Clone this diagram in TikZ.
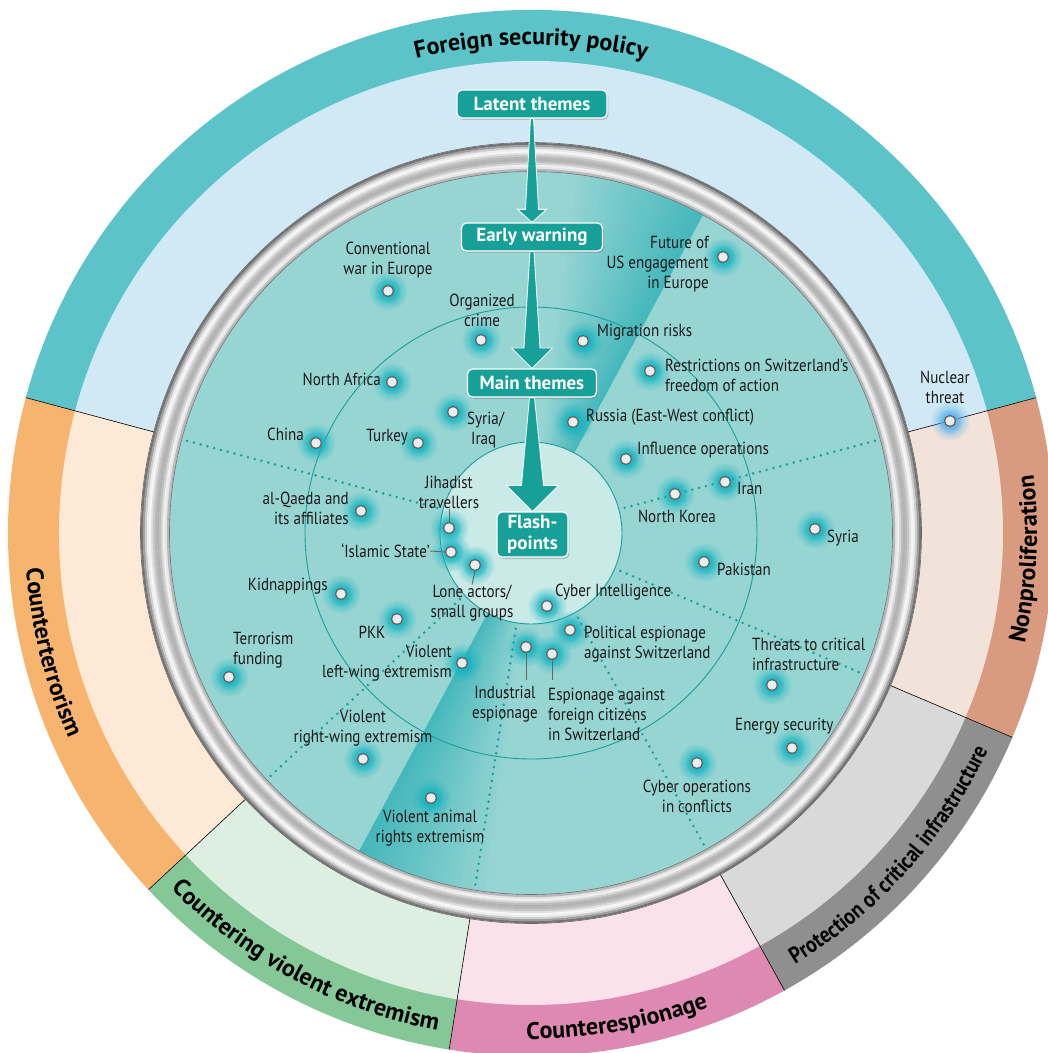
\documentclass[tikz,border=0pt]{standalone}
\usepackage{fontspec}
\setmainfont[FakeStretch=0.86]{PT Sans}
\newfontfamily\widefam{PT Sans}
\usetikzlibrary{calc,fadings,shadows,decorations.text}

\definecolor{discc}{HTML}{97D5D3}
\definecolor{stripec}{HTML}{45B8BC}
\definecolor{flashc}{HTML}{C9EAE7}
\definecolor{themec}{HTML}{17A097}
\definecolor{linec}{HTML}{1A9F98}
\definecolor{glowc}{HTML}{0FB3C0}
\definecolor{nukec}{HTML}{4FAEEC}
\definecolor{fspC}{HTML}{5CC4C8}
\definecolor{fspL}{HTML}{D0E9F4}
\definecolor{ctC}{HTML}{F7B46F}
\definecolor{ctL}{HTML}{FDE9D6}
\definecolor{cveC}{HTML}{84C898}
\definecolor{cveL}{HTML}{DDEFE1}
\definecolor{ceC}{HTML}{DD89B1}
\definecolor{ceL}{HTML}{FBE2EA}
\definecolor{pciC}{HTML}{8F8F8F}
\definecolor{pciL}{HTML}{D9D9D9}
\definecolor{npC}{HTML}{D99B80}
\definecolor{npL}{HTML}{F2E3DA}

\tikzfading[name=glowfade, inner color=transparent!0, outer color=transparent!100]

\newcommand\lblfont{\fontsize{17.5}{20}\selectfont}
\newcommand\ringfont{\widefam\bfseries\fontsize{24}{26}\selectfont}
\newcommand\ringnarrow{\bfseries\fontsize{23}{25}\selectfont}

\tikzset{
  dot/.style={circle, draw=black!60, line width=1.3pt, fill=white!93!black, inner sep=0pt, minimum size=11pt},
  lbl/.style={font=\lblfont, inner sep=0pt, text=black!90},
  theme/.style={rounded corners=5pt, fill=themec, draw=white, line width=1.2pt, text=white,
    font=\widefam\bfseries\fontsize{19}{21}\selectfont, inner sep=2pt, minimum height=28pt,
    drop shadow={opacity=0.4, shadow xshift=1.5pt, shadow yshift=-2pt}},
  dotline/.style={linec, line width=2.8pt, dash pattern=on 0pt off 7pt, line cap=round},
  tick/.style={black!60, line width=0.9pt},
  flow/.style={fill=themec, draw=white, line width=0.8pt},
  sector/.style={draw=black, line width=0.6pt},
}

\def\dotlist{conv/-143/242, orgcrime/-50/193, nafrica/-139/151, syriaq/-78/121, china/-215/90,
  turkey/-113/90, jihad/-82/5, isis/-80/-19, alqaeda/-170/22, lone/-56/-32, kidnap/-190/-61,
  pkk/-134/-86, terfund/-302/-144, leftwing/-69/-130, rightwing/-168/-226, animal/-100/-265,
  indesp/-5/-114, forcit/21/-121, polesp/39/-97, cyberint/16/-73, pakistan/173/-29,
  threats/241/-152, energy/261/-215, cyberops/166/-230, syria/284/4, nkorea/144/39,
  iran/194/51, influence/95/74, russia/42/111, restrict/119/162, migration/52/192, futureus/192/276}

\begin{document}
\begin{tikzpicture}[x=1pt, y=1pt]
    \useasboundingbox (-531,-520) rectangle (517,533);
    \clip (-531,-520) rectangle (517,533);

    \foreach \a/\b/\rim/\light in {15/165/fspC/fspL, 165/223/ctC/ctL, 223/261/cveC/cveL,
        261/299/ceC/ceL, 299/337/pciC/pciL, 337/375/npC/npL} {
        \fill[\rim] (0,0) -- (\a:523) arc[start angle=\a, end angle=\b, radius=523] -- cycle;
        \fill[\light] (0,0) -- (\a:472) arc[start angle=\a, end angle=\b, radius=472] -- cycle;
    }
    \foreach \a in {15,165,223,261,299,337}
        \draw[sector] (\a:390) -- (\a:523);

    \fill[discc] (0,0) circle (362);
    \foreach \s in {61.6,241.6} {
        \foreach \i in {0,...,21} {
            \pgfmathtruncatemacro\p{100-100*\i/22}
            \fill[stripec!\p!discc] (0,0) -- (\s+\i:362) arc[start angle=\s+\i, end angle=\s+\i+1.2, radius=362] -- cycle;
        }
    }
    \draw[linec, line width=0.9pt] (0,0) circle (226);
    \fill[flashc] (0,0) circle (91);
    \draw[linec, line width=0.9pt] (0,0) circle (91);
    \foreach \a in {15,165,223,261,299,337}
        \draw[dotline] (\a:97) -- (\a:358);

    \foreach \r/\g in {389/45, 387/62, 385/80, 383/93, 381/97, 379/88, 377/78, 375/72,
        373/70, 371/74, 369/84, 367/94, 365/90, 363/72}
        \draw[line width=2.3pt, white!\g!black] (0,0) circle (\r);
    \draw[black!60, line width=0.6pt] (0,0) circle (390.5);
    \draw[black!55, line width=0.6pt] (0,0) circle (361.5);

    \node[theme, minimum width=150pt] (latent) at (1,429) {Latent themes};
    \node[theme, minimum width=141pt] (early) at (1,296) {Early warning};
    \node[theme, minimum width=129pt] (mainth) at (1,150) {Main themes};
    \node[theme, minimum width=71pt, minimum height=45pt, align=center] (flash) at (1.5,-1.5) {Flash-\\points};

    \draw[flow] ($(latent.south)+(-1.5,0)$) -- ($(early.north)+(-6.5,13)$) -- ($(early.north)+(-14.5,13)$)
        -- (early.north) -- ($(early.north)+(14.5,13)$) -- ($(early.north)+(6.5,13)$) -- ($(latent.south)+(1.5,0)$) -- cycle;
    \draw[flow] ($(early.south)+(-2,0)$) -- ($(mainth.north)+(-8,20.5)$) -- ($(mainth.north)+(-20.5,20.5)$)
        -- (mainth.north) -- ($(mainth.north)+(20.5,20.5)$) -- ($(mainth.north)+(8,20.5)$) -- ($(early.south)+(2,0)$) -- cycle;
    \draw[flow] ($(mainth.south)+(-2.5,0)$) -- ($(flash.north)+(-11,26)$) -- ($(flash.north)+(-26,26)$)
        -- (flash.north) -- ($(flash.north)+(26,26)$) -- ($(flash.north)+(11,26)$) -- ($(mainth.south)+(2.5,0)$) -- cycle;

    \foreach \n/\x/\y in \dotlist {
        \fill[glowc, path fading=glowfade] (\x,\y) circle (20);
        \fill[glowc, path fading=glowfade] (\x,\y) circle (13);
    }
    \fill[nukec, path fading=glowfade] (419,112) circle (20);
    \fill[nukec, path fading=glowfade] (419,112) circle (13);
    \foreach \n/\x/\y in \dotlist
        \node[dot] (\n) at (\x,\y) {};
    \node[dot] (nuke) at (419,112) {};

    \node[lbl, align=center] (convL) at (-143,273) {Conventional\\war in Europe};
    \node[lbl, align=center] (orgcrimeL) at (-49,223) {Organized\\crime};
    \node[lbl, anchor=east] (nafricaL) at (-150,154) {North Africa};
    \node[lbl, anchor=west, align=left] (syriaqL) at (-64,103) {Syria/\\\hspace*{4pt}Iraq};
    \node[lbl, anchor=east] (chinaL) at (-227,99) {China};
    \node[lbl, anchor=east] (turkeyL) at (-123,96) {Turkey};
    \node[lbl, align=center] (jihadL) at (-82,41) {Jihadist\\travellers};
    \node[lbl, anchor=east] (isisL) at (-101,-18) {`Islamic State'};
    \node[lbl, anchor=east, align=right] (alqaedaL) at (-182,25) {al-Qaeda and\\its affiliates};
    \node[lbl, align=center] (loneL) at (-59,-70) {Lone actors/\\small groups};
    \node[lbl, anchor=east] (kidnapL) at (-203,-53) {Kidnappings};
    \node[lbl] (pkkL) at (-159,-99) {PKK};
    \node[lbl, anchor=west, align=left] (terfundL) at (-298,-117) {Terrorism\\funding};
    \node[lbl, anchor=east, align=right] (leftwingL) at (-79,-130) {Violent\\left-wing extremism};
    \node[lbl, align=center] (rightwingL) at (-168,-195) {Violent\\right-wing extremism};
    \node[lbl, align=center] (animalL) at (-101,-295) {Violent animal\\rights extremism};
    \node[lbl, align=center] (indespL) at (-26,-171) {Industrial\\espionage};
    \node[lbl, anchor=west, align=left] (forcitL) at (17,-181) {Espionage against\\foreign citizens\\in Switzerland};
    \node[lbl, anchor=west, align=left] (polespL) at (53,-111) {Political espionage\\against Switzerland};
    \node[lbl, anchor=west] (cyberintL) at (24,-59) {Cyber Intelligence};
    \node[lbl, anchor=west] (pakistanL) at (186,-36) {Pakistan};
    \node[lbl, anchor=west, align=left] (threatsL) at (221,-121) {Threats to critical\\infrastructure};
    \node[lbl, anchor=west] (energyL) at (204,-193) {Energy security};
    \node[lbl, align=center] (cyberopsL) at (166,-263) {Cyber operations\\in conflicts};
    \node[lbl, anchor=west] (syriaL) at (296,-5) {Syria};
    \node[lbl] (nkoreaL) at (146,17) {North Korea};
    \node[lbl, anchor=west] (iranL) at (206,45) {Iran};
    \node[lbl, anchor=west] (influenceL) at (106,83) {Influence operations};
    \node[lbl, anchor=west] (russiaL) at (55,116) {Russia (East-West conflict)};
    \node[lbl, anchor=west, align=left] (restrictL) at (134,158) {Restrictions on Switzerland's\\freedom of action};
    \node[lbl, anchor=west] (migrationL) at (66,201) {Migration risks};
    \node[lbl, anchor=east, align=right] (futureusL) at (178,269) {Future of\\US engagement\\in Europe};
    \node[lbl, align=center] (nukeL) at (414,146) {Nuclear\\threat};

    \coordinate (indespEnd) at (-5,-147);
    \coordinate (forcitEnd) at (21,-147);
    \draw[tick] (jihadL.south) -- (jihad.north);
    \draw[tick] (isisL.east) -- (isis.west);
    \draw[tick] (lone.south) -- (loneL.north);
    \draw[tick] (indesp.south) -- (indespEnd);
    \draw[tick] (forcit.south) -- (forcitEnd);

    \path[decorate, decoration={text along path, text align=center, text={|\ringfont|Foreign security policy}}]
        (150:488) arc[start angle=150, end angle=30, radius=488];
    \path[decorate, decoration={text along path, text align=center, text={|\ringfont|Counterterrorism}}]
        (154:506) arc[start angle=154, end angle=234, radius=506];
    \path[decorate, decoration={text along path, text align=center, text={|\ringfont|Countering violent extremism}}]
        (202:506) arc[start angle=202, end angle=282, radius=506];
    \path[decorate, decoration={text along path, text align=center, text={|\ringfont|Counterespionage}}]
        (240:506) arc[start angle=240, end angle=320, radius=506];
    \path[decorate, decoration={text along path, text align=center, text={|\ringnarrow|Protection of critical infrastructure}}]
        (278:506) arc[start angle=278, end angle=358, radius=506];
    \path[decorate, decoration={text along path, text align=center, text={|\ringfont|Nonproliferation}}]
        (-43:506) arc[start angle=-43, end angle=37, radius=506];
\end{tikzpicture}
\end{document}
